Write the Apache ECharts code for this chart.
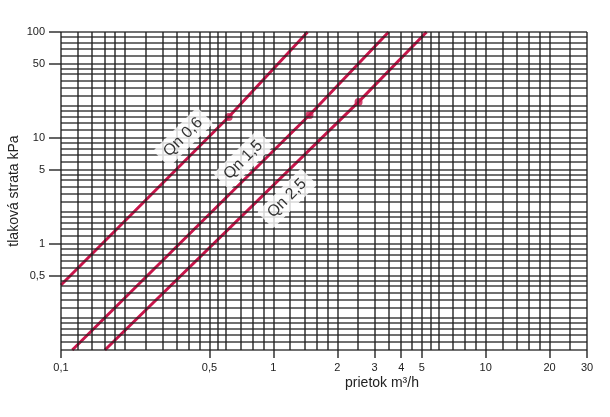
<!DOCTYPE html>
<html>
<head>
<meta charset="utf-8">
<script src="https://cdn.jsdelivr.net/npm/echarts@6/dist/echarts.min.js"></script>
<style>
html,body{margin:0;padding:0;background:#fff;}
#chart{width:610px;height:417px;}
</style>
</head>
<body>
<div id="chart"></div>
<script>
// Data
const qn06 = [[0.1, 0.41], [0.616, 15.8], [1.45, 100]];
const qn15 = [[0.113, 0.1], [1.48, 16.5], [3.49, 100]];
const qn25 = [[0.161, 0.1], [2.52, 21.9], [5.27, 100]];
const qnPoints = [[0.616, 15.8], [1.48, 16.5], [2.52, 21.9]];
const curveLabels = [
  {name: 'Qn 0,6', value: [0.376, 10.2]},
  {name: 'Qn 1,5', value: [0.722, 6.2]},
  {name: 'Qn 2,5', value: [1.16, 2.7]}
];
const xTickLabels = [0.1, 0.5, 1, 2, 3, 4, 5, 10, 20, 30];
const yTickLabels = [0.5, 1, 5, 10, 50, 100];
const gridX = [0.1,0.12,0.14,0.16,0.18,0.2,0.25,0.3,0.35,0.4,0.45,0.5,0.55,0.6,0.7,0.8,0.9,
  1,1.2,1.4,1.6,1.8,2,2.5,3,3.5,4,4.5,5,5.5,6,7,8,9,
  10,12,14,16,18,20,25,30];
const gridY = [0.1,0.12,0.14,0.16,0.18,0.2,0.25,0.3,0.35,0.4,0.45,0.5,0.6,0.7,0.8,0.9,
  1,1.2,1.4,1.6,1.8,2,2.5,3,3.5,4,4.5,5,6,7,8,9,
  10,12,14,16,18,20,25,30,35,40,45,50,60,70,80,90,100];

const fmt = v => String(v).replace('.', ',');
const chart = echarts.init(document.getElementById('chart'));
const gridMarks = [];
gridX.forEach(v => gridMarks.push({xAxis: v}));
gridY.forEach(v => gridMarks.push({yAxis: v}));

const lineStyle = {color: '#c8164b', width: 3};
chart.setOption({
  animation: false,
  backgroundColor: '#fff',
  grid: {left: 61, right: 23, top: 32, bottom: 67, outerBoundsMode: 'none', containLabel: false},
  xAxis: {
    type: 'log', min: 0.1, max: 30, logBase: 10,
    name: 'prietok m³/h', nameLocation: 'middle', nameGap: 26, nameMoveOverlap: false,
    nameTextStyle: {fontFamily: 'Liberation Sans, Arial', fontSize: 14, color: '#222', padding: [0, 0, 0, 116]},
    axisLine: {show: false},
    splitLine: {show: false},
    minorSplitLine: {show: false},
    axisTick: {show: true, customValues: xTickLabels, length: 8, lineStyle: {color: '#333', width: 1.5}},
    axisLabel: {customValues: xTickLabels, formatter: fmt, fontFamily: 'Liberation Sans, Arial', fontSize: 11, color: '#222', margin: 12}
  },
  yAxis: {
    type: 'log', min: 0.1, max: 100, logBase: 10,
    name: 'tlaková strata kPa', nameLocation: 'middle', nameGap: 47, nameRotate: 90, nameMoveOverlap: false,
    nameTextStyle: {fontFamily: 'Liberation Sans, Arial', fontSize: 14, color: '#222', verticalAlign: 'middle'},
    axisLine: {show: false},
    splitLine: {show: false},
    axisTick: {show: true, customValues: yTickLabels, length: 12, lineStyle: {color: '#333', width: 1.5}},
    axisLabel: {customValues: yTickLabels, formatter: fmt, fontFamily: 'Liberation Sans, Arial', fontSize: 11, color: '#222', margin: 16}
  },
  series: [
    {
      type: 'line', data: [], z: 1, silent: true,
      markLine: {
        silent: true, symbol: 'none', animation: false,
        label: {show: false},
        lineStyle: {color: '#1e1e1e', width: 1.6, type: 'solid', opacity: 0.85},
        emphasis: {disabled: true},
        data: gridMarks
      }
    },
    {type: 'line', data: qn06, showSymbol: false, lineStyle: lineStyle, z: 3, silent: true},
    {type: 'line', data: qn15, showSymbol: false, lineStyle: lineStyle, z: 3, silent: true},
    {type: 'line', data: qn25, showSymbol: false, lineStyle: lineStyle, z: 3, silent: true},
    {type: 'scatter', data: qnPoints, symbolSize: 8, itemStyle: {color: '#c8164b'}, z: 4, silent: true},
    {
      type: 'scatter', data: curveLabels, symbolSize: 0, z: 5, zlevel: 1, silent: true,
      label: {
        show: true, position: 'inside', formatter: p => p.name, rotate: 45,
        fontFamily: 'Liberation Sans, Arial', fontSize: 16, color: '#000',
        backgroundColor: '#fff', padding: [4, 7, 3, 7], borderRadius: 2
      }
    }
  ]
});
</script>
</body>
</html>
